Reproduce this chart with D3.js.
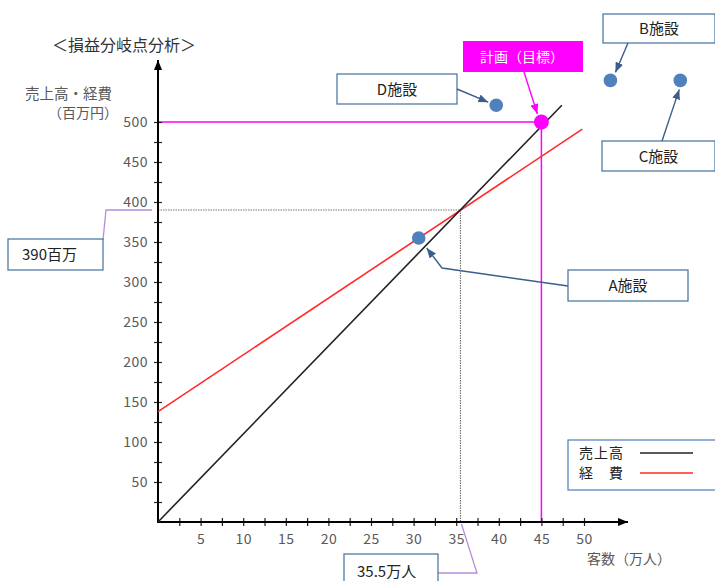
<!DOCTYPE html>
<html>
<head>
<meta charset="utf-8">
<script src="https://cdn.jsdelivr.net/npm/d3@7"></script>
<style>
  body { margin: 0; background: #fff; }
  svg { display: block; font-family: "Noto Sans CJK JP", "Noto Sans", sans-serif; }
</style>
</head>
<body>
<svg id="bep" width="715" height="581"></svg>
<script>
// values
const xTicks = [2.5, 5, 7.5, 10, 12.5, 15, 17.5, 20, 22.5, 25, 27.5, 30, 32.5, 35, 37.5, 40, 42.5, 45, 47.5, 50];
const yTicks = [25, 50, 75, 100, 125, 150, 175, 200, 225, 250, 275, 300, 325, 350, 375, 400, 425, 450, 475, 500];
const salesLine = [[0, 0], [47.4, 521]];
const costLine = [[0, 138], [49.8, 491]];
const breakEven = [35.5, 390];
const plan = [45, 500];
const facilityNames = ['A施設', 'B施設', 'C施設', 'D施設'];
const facilityX = [30.6, 53.1, 61.3, 39.7];
const facilityY = [355, 552, 552, 521];
const legendNames = ['売上高', '経　費'];
const legendColors = ['#222', '#ff2a2a'];

const svg = d3.select('#bep');

const x = d3.scaleLinear().domain([0, 50]).range([158, 584]);
const y = d3.scaleLinear().domain([0, 500]).range([522, 122]);

svg.append('defs').selectAll('marker')
  .data([['ah-blue', '#3b5e8c'], ['ah-mag', '#ff00ff'], ['ah-black', '#000']])
  .join('marker')
  .attr('id', d => d[0])
  .attr('viewBox', '0 0 10 8')
  .attr('refX', 10).attr('refY', 4)
  .attr('markerWidth', 10).attr('markerHeight', 8)
  .attr('markerUnits', 'userSpaceOnUse')
  .attr('orient', 'auto')
  .append('path')
  .attr('d', 'M0,0 L10,4 L0,8 z')
  .attr('fill', d => d[1]);

// title + axis titles
svg.append('text').attr('x', 52).attr('y', 51)
  .style('font-size', '16px').style('fill', '#333')
  .text('＜損益分岐点分析＞');
svg.append('text').attr('x', 112).attr('y', 99).attr('text-anchor', 'end')
  .style('font-size', '14.5px').style('fill', '#595959')
  .text('売上高・経費');
svg.append('text').attr('x', 118).attr('y', 118).attr('text-anchor', 'end')
  .style('font-size', '14px').style('fill', '#595959')
  .text('（百万円）');
svg.append('text').attr('x', 587).attr('y', 564)
  .style('font-size', '14px').style('fill', '#595959')
  .text('客数（万人）');

// break-even guides
svg.append('path')
  .attr('d', d3.line()([[x(0), y(breakEven[1])], [x(breakEven[0]), y(breakEven[1])], [x(breakEven[0]), y(0)]]))
  .attr('fill', 'none').attr('stroke', '#777').attr('stroke-width', 1.2)
  .attr('stroke-dasharray', '1.5,1');

// plan guides
svg.append('path')
  .attr('d', d3.line()([[x(0), y(plan[1])], [x(plan[0]), y(plan[1])], [x(plan[0]), y(0)]]))
  .attr('fill', 'none').attr('stroke', '#ff00ff').attr('stroke-width', 1.5);

// axes
svg.append('g').attr('transform', `translate(${x(0)},0)`)
  .call(d3.axisLeft(y).tickValues(yTicks).tickSize(4).tickPadding(6)
    .tickFormat(d => d % 50 === 0 ? d : ''));
svg.append('g').attr('transform', `translate(${x(0)},0)`)
  .call(d3.axisRight(y).tickValues(yTicks).tickSize(4).tickFormat(''));
svg.append('g').attr('transform', `translate(0,${y(0)})`)
  .call(d3.axisBottom(x).tickValues(xTicks).tickSize(4).tickPadding(8)
    .tickFormat(d => d % 5 === 0 ? d : ''));
svg.append('g').attr('transform', `translate(0,${y(0)})`)
  .call(d3.axisTop(x).tickValues(xTicks).tickSize(4).tickFormat(''));

svg.selectAll('.domain').remove();
svg.selectAll('.tick line').attr('stroke', '#222').attr('stroke-width', 1.2);
svg.selectAll('.tick text')
  .style('font-family', '"Noto Sans CJK JP", sans-serif')
  .style('font-size', '14px').style('fill', '#595959').style('letter-spacing', '0.5px');

svg.append('line')
  .attr('x1', x(0)).attr('y1', y(0)).attr('x2', x(0)).attr('y2', 60)
  .attr('stroke', '#000').attr('stroke-width', 2).attr('marker-end', 'url(#ah-black)');
svg.append('line')
  .attr('x1', x(0) - 1).attr('y1', y(0)).attr('x2', 628).attr('y2', y(0))
  .attr('stroke', '#000').attr('stroke-width', 2).attr('marker-end', 'url(#ah-black)');

// sales / cost lines
const line = d3.line().x(d => x(d[0])).y(d => y(d[1]));
svg.append('path').datum(costLine).attr('d', line)
  .attr('fill', 'none').attr('stroke', '#ff2a2a').attr('stroke-width', 1.6);
svg.append('path').datum(salesLine).attr('d', line)
  .attr('fill', 'none').attr('stroke', '#222').attr('stroke-width', 1.6);

// facilities
svg.selectAll('circle.fac')
  .data(facilityNames)
  .join('circle')
  .attr('class', 'fac')
  .attr('cx', (d, i) => x(facilityX[i]))
  .attr('cy', (d, i) => y(facilityY[i]))
  .attr('r', 6.8)
  .attr('fill', '#4f81bd');

svg.append('circle')
  .attr('cx', x(plan[0])).attr('cy', y(plan[1])).attr('r', 7.5)
  .attr('fill', '#ff00ff');

// callout boxes
function box(x0, y0, w, h, label, tx, anchor, ty) {
  svg.append('rect').attr('x', x0).attr('y', y0).attr('width', w).attr('height', h)
    .attr('fill', '#fff').attr('stroke', '#41719c').attr('stroke-width', 1.2);
  svg.append('text')
    .attr('x', anchor === 'start' ? x0 + tx : x0 + w / 2)
    .attr('y', ty || (y0 + h / 2 + 5.5))
    .attr('text-anchor', anchor || 'middle')
    .style('font-size', '15px').style('fill', '#222')
    .text(label);
}

function pt(i, dx, dy) { return [x(facilityX[i]) + dx, y(facilityY[i]) + dy]; }
function arrow(points, color, marker) {
  svg.append('path').attr('d', d3.line()(points))
    .attr('fill', 'none').attr('stroke', color).attr('stroke-width', 1.4)
    .attr('marker-end', `url(#${marker})`);
}

box(337, 74, 120, 30, facilityNames[3]);
arrow([[457, 89], pt(3, -8, -3)], '#3b5e8c', 'ah-blue');

box(603, 14, 112, 29, facilityNames[1]);
arrow([[628, 43], pt(1, 5, -8)], '#3b5e8c', 'ah-blue');

box(602, 141, 113, 30, facilityNames[2]);
arrow([[662, 141], pt(2, -1, 9)], '#3b5e8c', 'ah-blue');

box(568, 270, 120, 31, facilityNames[0]);
arrow([[568, 286], [442, 268], pt(0, 8, 10)], '#3b5e8c', 'ah-blue');

// plan callout
svg.append('rect').attr('x', 463).attr('y', 41).attr('width', 120).attr('height', 31)
  .attr('fill', '#ff00ff');
svg.append('text').attr('x', 522).attr('y', 62).attr('text-anchor', 'middle')
  .style('font-size', '14px').style('fill', '#fff')
  .text('計画（目標）');
arrow([[524, 72], [x(plan[0]) - 4, y(plan[1]) - 8]], '#ff00ff', 'ah-mag');

// break-even value callouts
const beColor = '#b48fd6';
svg.append('path')
  .attr('d', d3.line()([[103, 240], [106, y(breakEven[1])], [x(0) - 6, y(breakEven[1])]]))
  .attr('fill', 'none').attr('stroke', beColor).attr('stroke-width', 1.3);
box(8, 239, 95, 31, breakEven[1] + '百万', 14, 'start');

svg.append('path')
  .attr('d', d3.line()([[438, 573], [477, 573], [x(breakEven[0]) + 1, y(0) + 2]]))
  .attr('fill', 'none').attr('stroke', beColor).attr('stroke-width', 1.3);
box(344, 554, 94, 40, breakEven[0] + '万人', 13, 'start', 577);

// legend
svg.append('rect').attr('x', 568).attr('y', 440).attr('width', 160).attr('height', 50)
  .attr('fill', '#fff').attr('stroke', '#4a7ebb').attr('stroke-width', 1.2);
const lg = svg.selectAll('g.lg')
  .data(legendNames)
  .join('g')
  .attr('class', 'lg')
  .attr('transform', (d, i) => `translate(0,${453 + i * 20})`);
lg.append('text').attr('x', 579).attr('y', 5)
  .style('font-size', '14px').style('fill', '#222')
  .style('letter-spacing', '1px')
  .text(d => d);
lg.append('line').attr('x1', 640).attr('x2', 693).attr('y1', 0).attr('y2', 0)
  .attr('stroke', (d, i) => legendColors[i]).attr('stroke-width', 1.6);
</script>
</body>
</html>
